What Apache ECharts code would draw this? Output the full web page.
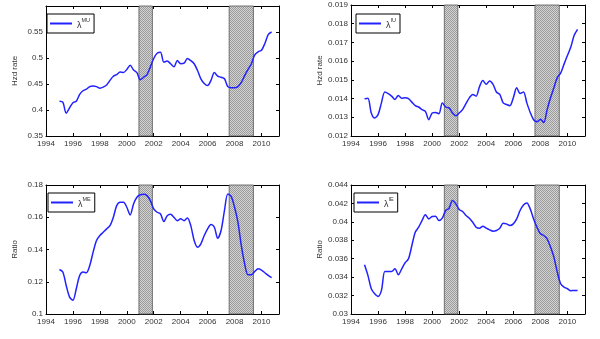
<!DOCTYPE html>
<html>
<head>
<meta charset="utf-8">
<script src="https://cdn.jsdelivr.net/npm/echarts@6/dist/echarts.min.js"></script>
<style>
  html, body { margin: 0; padding: 0; background: #fff; }
  #c { width: 600px; height: 339px; }
</style>
</head>
<body>
<div id="c"></div>
<script>
// Quarterly observation dates
const years = [
  1995.0, 1995.25, 1995.5, 1995.75, 1996.0, 1996.25, 1996.5, 1996.75,
  1997.0, 1997.25, 1997.5, 1997.75, 1998.0, 1998.25, 1998.5, 1998.75,
  1999.0, 1999.25, 1999.5, 1999.75, 2000.0, 2000.25, 2000.5, 2000.75,
  2001.0, 2001.25, 2001.5, 2001.75, 2002.0, 2002.25, 2002.5, 2002.75,
  2003.0, 2003.25, 2003.5, 2003.75, 2004.0, 2004.25, 2004.5, 2004.75,
  2005.0, 2005.25, 2005.5, 2005.75, 2006.0, 2006.25, 2006.5, 2006.75,
  2007.0, 2007.25, 2007.5, 2007.75, 2008.0, 2008.25, 2008.5, 2008.75,
  2009.0, 2009.25, 2009.5, 2009.75, 2010.0, 2010.25, 2010.5, 2010.75
];

// Hazard rate, MU
const hazardMU = [
  0.417, 0.415, 0.394, 0.404, 0.414, 0.417, 0.430, 0.437,
  0.440, 0.445, 0.446, 0.445, 0.442, 0.444, 0.448, 0.457,
  0.465, 0.468, 0.473, 0.472, 0.478, 0.486, 0.477, 0.472,
  0.458, 0.463, 0.468, 0.483, 0.499, 0.509, 0.511, 0.492,
  0.494, 0.489, 0.483, 0.495, 0.489, 0.490, 0.499, 0.495,
  0.489, 0.476, 0.460, 0.451, 0.447, 0.457, 0.472, 0.465,
  0.463, 0.460, 0.445, 0.443, 0.443, 0.445, 0.453, 0.466,
  0.478, 0.489, 0.506, 0.512, 0.515, 0.528, 0.545, 0.550
];

// Hazard rate, IU
const hazardIU = [
  0.01399, 0.01402, 0.01323, 0.01296, 0.01314, 0.01377, 0.01435, 0.01427,
  0.01413, 0.01395, 0.01417, 0.01402, 0.01404, 0.01400, 0.01381, 0.01362,
  0.01355, 0.01341, 0.01332, 0.01287, 0.01323, 0.01326, 0.01319, 0.01377,
  0.01355, 0.01350, 0.01323, 0.01308, 0.01323, 0.01341, 0.01373, 0.01404,
  0.01422, 0.01413, 0.01464, 0.01496, 0.01476, 0.01494, 0.01476, 0.01435,
  0.01422, 0.01377, 0.01368, 0.01362, 0.01404, 0.01458, 0.01427, 0.01435,
  0.01377, 0.01326, 0.01287, 0.01276, 0.01290, 0.01272, 0.01341, 0.01404,
  0.01458, 0.01512, 0.01536, 0.01584, 0.01630, 0.01675, 0.01738, 0.01770
];

// Ratio, ME
const ratioME = [
  0.1276, 0.1260, 0.1177, 0.1105, 0.1085, 0.1157, 0.1239, 0.1260,
  0.1256, 0.1301, 0.1384, 0.1456, 0.1487, 0.1507, 0.1528, 0.1548,
  0.1600, 0.1672, 0.1693, 0.1693, 0.1662, 0.1614, 0.1682, 0.1724,
  0.1740, 0.1742, 0.1734, 0.1703, 0.1652, 0.1631, 0.1621, 0.1573,
  0.1610, 0.1619, 0.1600, 0.1579, 0.1590, 0.1579, 0.1596, 0.1548,
  0.1456, 0.1414, 0.1435, 0.1487, 0.1528, 0.1555, 0.1538, 0.1470,
  0.1518, 0.1641, 0.1744, 0.1730, 0.1662, 0.1570, 0.1425, 0.1311,
  0.1243, 0.1243, 0.1264, 0.1280, 0.1272, 0.1256, 0.1239, 0.1225
];

// Ratio, IE
const ratioIE = [
  0.03534, 0.03419, 0.03274, 0.03220, 0.03191, 0.03256, 0.03462, 0.03462,
  0.03462, 0.03491, 0.03426, 0.03491, 0.03556, 0.03599, 0.03744, 0.03888,
  0.03942, 0.04014, 0.04076, 0.04032, 0.04058, 0.04061, 0.04014, 0.04040,
  0.04123, 0.04148, 0.04231, 0.04195, 0.04134, 0.04112, 0.04069, 0.04040,
  0.03996, 0.03942, 0.03931, 0.03953, 0.03931, 0.03913, 0.03899, 0.03906,
  0.03931, 0.03986, 0.03978, 0.03960, 0.03978, 0.04032, 0.04123, 0.04184,
  0.04206, 0.04141, 0.04032, 0.03942, 0.03870, 0.03852, 0.03816, 0.03726,
  0.03617, 0.03455, 0.03329, 0.03292, 0.03274, 0.03253, 0.03256, 0.03256
];

// Recession periods (start, end)
const recessions = [[2000.9, 2001.9], [2007.6, 2009.4]];

// Panel descriptions
const panels = [
  { values: hazardMU, sup: 'MU', yName: 'Hzd rate', yMin: 0.35, yMax: 0.6,   yStep: 0.05,
    grid: { left: 46,  top: 6,   width: 233, height: 130 }, legend: { left: 47,  top: 14 } },
  { values: hazardIU, sup: 'IU', yName: 'Hzd rate', yMin: 0.012, yMax: 0.019, yStep: 0.001,
    grid: { left: 351, top: 5,   width: 234, height: 131 }, legend: { left: 356, top: 14 } },
  { values: ratioME,  sup: 'ME', yName: 'Ratio',    yMin: 0.1,  yMax: 0.18,  yStep: 0.02,
    grid: { left: 46,  top: 185, width: 233, height: 129 }, legend: { left: 48,  top: 193 } },
  { values: ratioIE,  sup: 'IE', yName: 'Ratio',    yMin: 0.03, yMax: 0.044, yStep: 0.002,
    grid: { left: 351, top: 185, width: 234, height: 129 }, legend: { left: 354, top: 193 } }
];

// Fine checker fill for the shaded periods
const pat = document.createElement('canvas');
pat.width = 2; pat.height = 2;
const pctx = pat.getContext('2d');
pctx.fillStyle = '#d4d4d4'; pctx.fillRect(0, 0, 2, 2);
pctx.fillStyle = '#9a9a9a'; pctx.fillRect(0, 0, 1, 1); pctx.fillRect(1, 1, 1, 1);

const FONT = 'Liberation Sans';
const labelStyle = { fontFamily: FONT, fontSize: 8, color: '#333' };
const lineBlack = { lineStyle: { color: '#000', width: 1 } };
const tickStyle = { show: true, inside: true, length: 3, lineStyle: { color: '#000' } };

const option = {
  animation: false,
  backgroundColor: '#fff',
  grid: [], xAxis: [], yAxis: [], series: [], legend: []
};

panels.forEach((p, i) => {
  option.grid.push(Object.assign({ show: false }, p.grid));
  // bottom and top x axes
  option.xAxis.push({
    type: 'value', gridIndex: i, min: 1994, max: 2011.3, interval: 2, position: 'bottom',
    axisLine: Object.assign({ show: true, onZero: false }, lineBlack),
    axisTick: tickStyle,
    axisLabel: Object.assign({ showMaxLabel: false, margin: 4, formatter: v => String(Math.round(v)) }, labelStyle),
    splitLine: { show: false }
  });
  option.xAxis.push({
    type: 'value', gridIndex: i, min: 1994, max: 2011.3, interval: 2, position: 'top',
    axisLine: Object.assign({ show: true, onZero: false }, lineBlack),
    axisTick: tickStyle, axisLabel: { show: false }, splitLine: { show: false }
  });
  // left and right y axes
  option.yAxis.push({
    type: 'value', gridIndex: i, min: p.yMin, max: p.yMax, interval: p.yStep, position: 'left',
    name: p.yName, nameLocation: 'middle', nameGap: 27, nameRotate: 90,
    nameTextStyle: { fontFamily: FONT, fontSize: 8, color: '#333' },
    axisLine: Object.assign({ show: true, onZero: false }, lineBlack),
    axisTick: tickStyle,
    axisLabel: Object.assign({ margin: 3,
      formatter: v => (i === 0 && v > 0.58) ? '' : String(+v.toFixed(4)) }, labelStyle),
    splitLine: { show: false }
  });
  option.yAxis.push({
    type: 'value', gridIndex: i, min: p.yMin, max: p.yMax, interval: p.yStep, position: 'right',
    axisLine: Object.assign({ show: true, onZero: false }, lineBlack),
    axisTick: tickStyle, axisLabel: { show: false }, splitLine: { show: false }
  });

  const name = 'λ' + p.sup;
  option.series.push({
    name: name, type: 'line', xAxisIndex: 2 * i, yAxisIndex: 2 * i,
    data: years.map((y, k) => [y, p.values[k]]),
    showSymbol: false, smooth: 0.3, z: 3,
    lineStyle: { color: '#2222ff', width: 1.5 },
    itemStyle: { color: '#2222ff' },
    markArea: {
      silent: true, z: 1,
      itemStyle: { color: { image: pat, repeat: 'repeat' }, borderColor: '#555', borderWidth: 0.8 },
      data: recessions.map(r => [{ xAxis: r[0], yAxis: p.yMin }, { xAxis: r[1], yAxis: p.yMax }])
    }
  });
  option.legend.push({
    data: [name], left: p.legend.left, top: p.legend.top,
    orient: 'vertical',
    backgroundColor: '#fff', borderColor: '#000', borderWidth: 1, borderRadius: 0,
    padding: [3, 4, 3, 3],
    icon: 'rect', itemWidth: 22, itemHeight: 2, itemGap: 0,
    formatter: () => '{l|λ}{s|' + p.sup + '}',
    textStyle: {
      fontFamily: FONT, color: '#333',
      rich: {
        l: { fontSize: 9, fontFamily: FONT, color: '#333', lineHeight: 13, verticalAlign: 'bottom' },
        s: { fontSize: 5.5, fontFamily: FONT, color: '#333', verticalAlign: 'top' }
      }
    }
  });
});

const chart = echarts.init(document.getElementById('c'), null, { renderer: 'canvas' });
chart.setOption(option);
</script>
</body>
</html>
